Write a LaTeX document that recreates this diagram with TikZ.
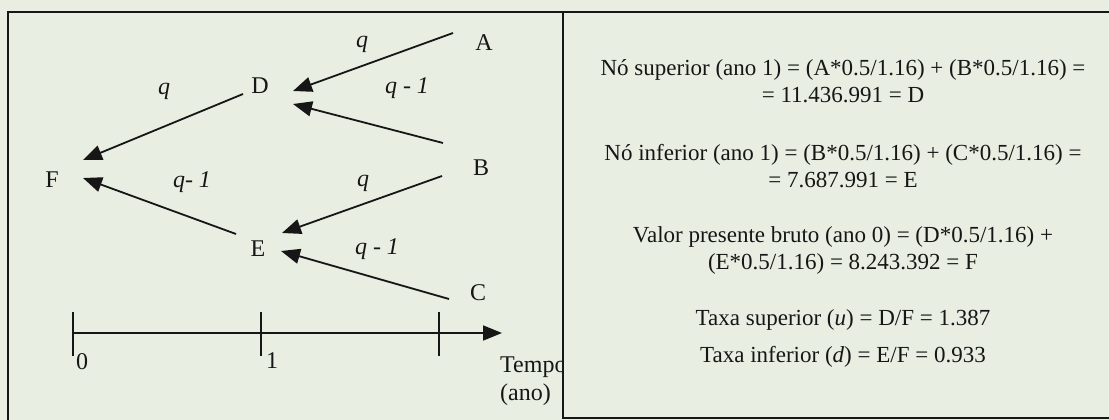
\documentclass[tikz,border=0pt]{standalone}
\usepackage{fontspec}
\setmainfont{Liberation Serif}
\usetikzlibrary{arrows.meta,calc}
\definecolor{paper}{RGB}{232,238,226}
\definecolor{ink}{RGB}{22,22,22}
\begin{document}
\begin{tikzpicture}[x=1pt, y=-1pt, font=\fontsize{24}{28}\selectfont, text=ink,
  >={Triangle[length=19pt,width=15pt]},
  arr/.style={->, line width=1.8pt, draw=ink},
  tick/.style={line width=1.5pt, draw=ink},
  frame/.style={line width=1.6pt, draw=ink},
  calc/.style={align=center, inner sep=0pt, font=\fontsize{23}{27}\selectfont}]
  \useasboundingbox (0,0) rectangle (1109,420);
  \clip (0,0) rectangle (1109,420);
  \fill[paper] (0,0) rectangle (1109,420);
  % binomial tree
  \node (A) at (484,43) {A};
  \node (D) at (260,86) {D};
  \node (B) at (481,168) {B};
  \node (F) at (52,180) {F};
  \node (E) at (258,249) {E};
  \node (C) at (478,293) {C};
  \draw[arr] ($(A)+(-31,-10)$) -- ($(D)+(33,5)$);
  \draw[arr] ($(B)+(-38,-25)$) -- ($(D)+(33,18)$);
  \draw[arr] ($(D)+(-17,8)$) -- ($(F)+(31,-20)$);
  \draw[arr] ($(E)+(-22,-15)$) -- ($(F)+(31,-2)$);
  \draw[arr] ($(B)+(-39,8)$) -- ($(E)+(24,-16)$);
  \draw[arr] ($(C)+(-29,6)$) -- ($(E)+(23,2)$);
  \node (qAD) at (362,44) {\textit{q}};
  \node (pBD) at (407,88) {\textit{q - 1}};
  \node (qDF) at (164,91) {\textit{q}};
  \node (pEF) at (192,182) {\textit{q- 1}};
  \node (qBE) at (363,183) {\textit{q}};
  \node (pCE) at (377,249) {\textit{q - 1}};
  % time axis
  \coordinate (t0) at (73,333);
  \coordinate (t1) at (261,333);
  \coordinate (t2) at (439,333);
  \coordinate (tend) at (502,333);
  \draw[arr] (t0) -- (tend);
  \foreach \t in {t0,t1,t2}
    \draw[tick] ($(\t)+(0,-21)$) -- ($(\t)+(0,23)$);
  \node (n0) at (82,362) {0};
  \node (n1) at (272,361) {1};
  \node[align=left, anchor=west, inner sep=0pt] (tempo) at (500,381) {Tempo\\(ano)};
  % calculation box
  \fill[paper] (563,12) rectangle (1115,418);
  \draw[frame] (8,425) -- (8,12) -- (1115,12);
  \draw[frame] (563,12) -- (563,418) -- (1115,418);
  \node[calc] (sup) at (843,81) {Nó superior (ano 1) = (A*0.5/1.16) + (B*0.5/1.16) =\\= 11.436.991 = D};
  \node[calc] (inf) at (843,166) {Nó inferior (ano 1) = (B*0.5/1.16) + (C*0.5/1.16) =\\= 7.687.991 = E};
  \node[calc] (vpb) at (843,250) {Valor presente bruto (ano 0) = (D*0.5/1.16) +\\(E*0.5/1.16) = 8.243.392 = F};
  \node[calc] (tu) at (843,320) {Taxa superior (\textit{u}) = D/F = 1.387};
  \node[calc] (td) at (843,357) {Taxa inferior (\textit{d}) = E/F = 0.933};
\end{tikzpicture}
\end{document}
